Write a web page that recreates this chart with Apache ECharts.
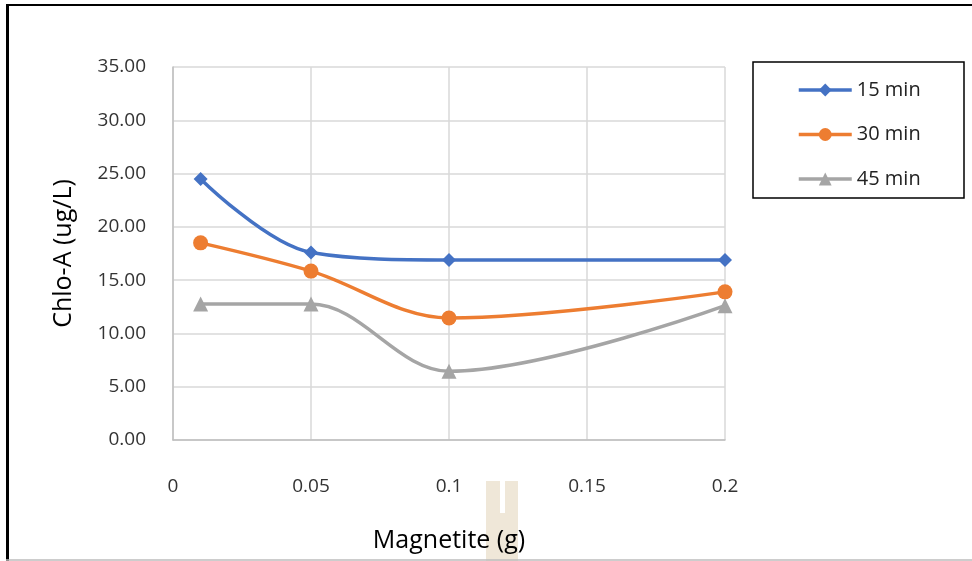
<!DOCTYPE html>
<html>
<head>
<meta charset="utf-8">
<script src="https://cdn.jsdelivr.net/npm/echarts@6/dist/echarts.min.js"></script>
<style>
html,body{margin:0;padding:0;background:#fff;}
#chart{width:972px;height:561px;}
</style>
</head>
<body>
<div id="chart"></div>
<script>
const xValues = [0.01, 0.05, 0.1, 0.2];
const seriesNames = ['15 min', '30 min', '45 min'];
const s15 = [24.5, 17.6, 16.9, 16.9];
const s30 = [18.5, 15.85, 11.45, 13.9];
const s45 = [12.75, 12.75, 6.45, 12.6];
const colors = ['#4472c4', '#ed7d31', '#a5a5a5'];
const symbols = ['diamond', 'circle', 'triangle'];
const symbolSizes = [14, 15, 15];

const FONT = '"Open Sans", "Noto Sans", sans-serif';
const allData = [s15, s30, s45];

const chart = echarts.init(document.getElementById('chart'), null, {renderer: 'canvas'});
chart.setOption({
  backgroundColor: '#ffffff',
  animation: false,
  grid: {left: 173, right: 247, top: 67, bottom: 121, containLabel: false},
  xAxis: {
    type: 'value', min: 0, max: 0.2, interval: 0.05,
    name: 'Magnetite (g)', nameLocation: 'middle', nameGap: 88,
    nameTextStyle: {fontFamily: FONT, fontSize: 25, color: '#000'},
    axisLine: {show: true, lineStyle: {color: '#bfbfbf', width: 1.5}},
    axisTick: {show: false},
    axisLabel: {fontFamily: FONT, fontSize: 19, color: '#333', margin: 37,
      formatter: v => String(Math.round(v * 100) / 100)},
    splitLine: {show: true, lineStyle: {color: '#d9d9d9', width: 1.5}}
  },
  yAxis: {
    type: 'value', min: 0, max: 35, interval: 5,
    name: 'Chlo-A (ug/L)', nameLocation: 'middle', nameGap: 97,
    nameTextStyle: {fontFamily: FONT, fontSize: 25, color: '#000'},
    axisLine: {show: true, lineStyle: {color: '#bfbfbf', width: 1.5}},
    axisTick: {show: false},
    axisLabel: {fontFamily: FONT, fontSize: 19, color: '#333', margin: 27,
      formatter: v => v.toFixed(2)},
    splitLine: {show: true, lineStyle: {color: '#d9d9d9', width: 1.5}}
  },
  legend: {
    orient: 'vertical', left: 797, top: 80, padding: 0,
    itemWidth: 53, itemHeight: 16, itemGap: 24.5,
    lineStyle: {width: 3.5},
    textStyle: {fontFamily: FONT, fontSize: 20, color: '#222', lineHeight: 16},
    data: seriesNames
  },
  series: seriesNames.map((n, i) => ({
    name: n, type: 'line', smooth: 0.35,
    data: xValues.map((x, j) => [x, allData[i][j]]),
    symbol: symbols[i], symbolSize: symbolSizes[i],
    lineStyle: {color: colors[i], width: 3.5},
    itemStyle: {color: colors[i]},
    z: 3 + (3 - i)
  })),
  graphic: [
    {type: 'rect', shape: {x: 753, y: 62, width: 211, height: 136},
      style: {fill: 'none', stroke: '#000', lineWidth: 1.5}, z: 10},
    {type: 'line', shape: {x1: 6, y1: 5, x2: 972, y2: 5},
      style: {stroke: '#000', lineWidth: 2}},
    {type: 'line', shape: {x1: 7.5, y1: 4, x2: 7.5, y2: 561},
      style: {stroke: '#000', lineWidth: 3}},
    {type: 'line', shape: {x1: 6, y1: 560, x2: 972, y2: 560},
      style: {stroke: '#bdbdbd', lineWidth: 1.5}},
    {type: 'polygon', z: -1,
      shape: {points: [[486,481],[500,481],[500,513],[505,513],[505,481],[518,481],[518,561],[486,561]]},
      style: {fill: '#efe7d8'}}
  ]
});
</script>
</body>
</html>
